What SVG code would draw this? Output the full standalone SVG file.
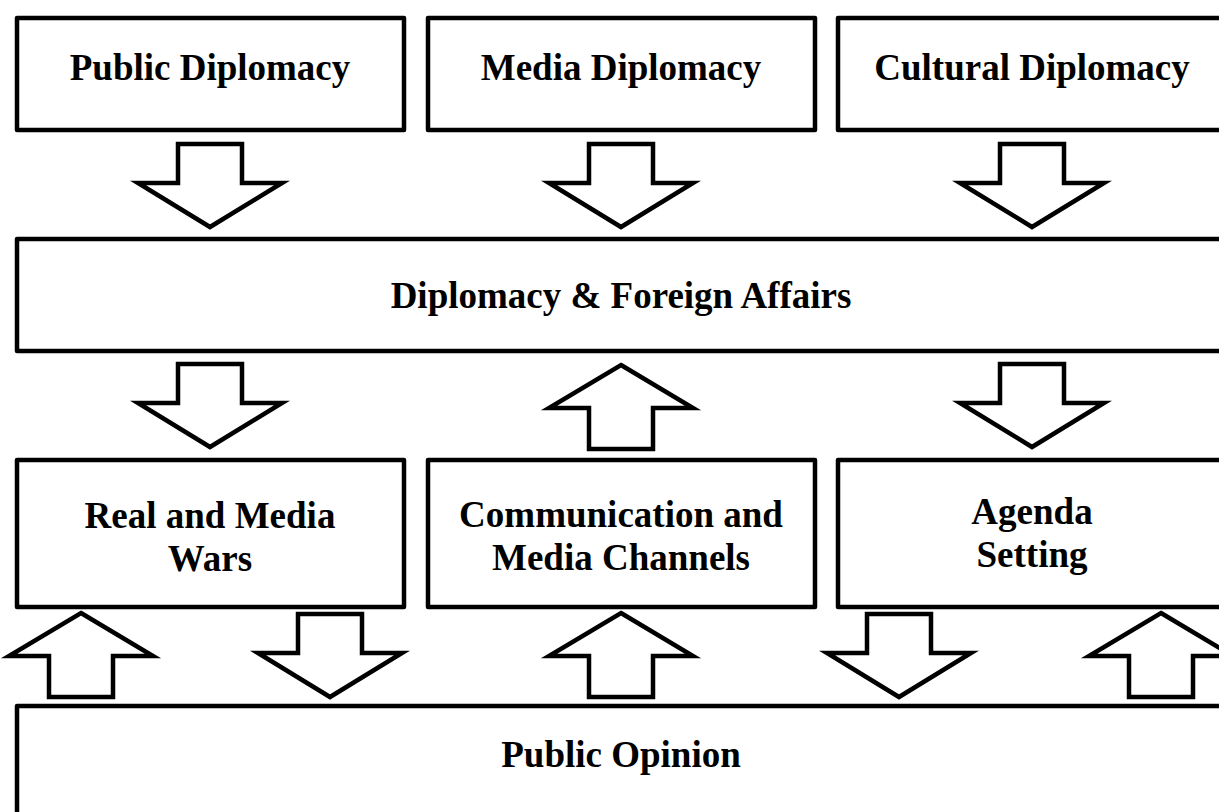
<svg xmlns="http://www.w3.org/2000/svg" width="1219" height="812" viewBox="0 0 1219 812">
  <style>
    .box { fill: #ffffff; stroke: #000000; stroke-width: 4.5; stroke-linejoin: round; }
    .arrow { fill: #ffffff; stroke: #000000; stroke-width: 4.5; stroke-linejoin: miter; stroke-miterlimit: 4; }
    .label { font-family: "Liberation Serif", "Times New Roman", serif; font-weight: bold; font-size: 37px; fill: #000000; text-anchor: middle; }
  </style>
  <defs>
    <!-- block arrows centred on x=0; down arrow starts at y=0, up arrow tip at y=0 -->
    <path id="arrowDown" d="M -32 0 L 32 0 L 32 39 L 72 39 L 0 83 L -72 39 L -32 39 Z"/>
    <path id="arrowUp" d="M 0 0 L 72 43 L 32 43 L 32 84 L -32 84 L -32 43 L -72 43 Z"/>
  </defs>

  <rect width="1219" height="812" fill="#ffffff"/>

  <!-- top row -->
  <g id="public-diplomacy">
    <rect class="box" x="17" y="18" width="387" height="112"/>
    <text class="label" x="210" y="80">Public Diplomacy</text>
  </g>
  <g id="media-diplomacy">
    <rect class="box" x="428" y="18" width="387" height="112"/>
    <text class="label" x="621" y="80">Media Diplomacy</text>
  </g>
  <g id="cultural-diplomacy">
    <rect class="box" x="838" y="18" width="387" height="112"/>
    <text class="label" x="1032" y="80">Cultural Diplomacy</text>
  </g>

  <!-- central band -->
  <g id="diplomacy-foreign-affairs">
    <rect class="box" x="17" y="239" width="1208" height="112"/>
    <text class="label" x="621" y="308">Diplomacy &amp; Foreign Affairs</text>
  </g>

  <!-- middle row -->
  <g id="real-media-wars">
    <rect class="box" x="17" y="460" width="387" height="147"/>
    <text class="label" x="210" y="528">Real and Media</text>
    <text class="label" x="210" y="571">Wars</text>
  </g>
  <g id="communication-channels">
    <rect class="box" x="428" y="460" width="387" height="147"/>
    <text class="label" x="621" y="527">Communication and</text>
    <text class="label" x="621" y="570">Media Channels</text>
  </g>
  <g id="agenda-setting">
    <rect class="box" x="838" y="460" width="387" height="147"/>
    <text class="label" x="1032" y="524">Agenda</text>
    <text class="label" x="1032" y="567">Setting</text>
  </g>

  <!-- bottom band -->
  <g id="public-opinion">
    <rect class="box" x="17" y="706" width="1208" height="120"/>
    <text class="label" x="621" y="767">Public Opinion</text>
  </g>

  <!-- block-arrow connectors -->
  <g id="connectors">
    <use href="#arrowDown" class="arrow" transform="translate(210,144)"/>
    <use href="#arrowDown" class="arrow" transform="translate(621,144)"/>
    <use href="#arrowDown" class="arrow" transform="translate(1032,144)"/>

    <use href="#arrowDown" class="arrow" transform="translate(210,364)"/>
    <use href="#arrowUp" class="arrow" transform="translate(621,365)"/>
    <use href="#arrowDown" class="arrow" transform="translate(1032,364)"/>

    <use href="#arrowUp" class="arrow" transform="translate(81,613)"/>
    <use href="#arrowDown" class="arrow" transform="translate(330,614)"/>
    <use href="#arrowUp" class="arrow" transform="translate(621,613)"/>
    <use href="#arrowDown" class="arrow" transform="translate(899,614)"/>
    <use href="#arrowUp" class="arrow" transform="translate(1161,613)"/>
  </g>
</svg>
